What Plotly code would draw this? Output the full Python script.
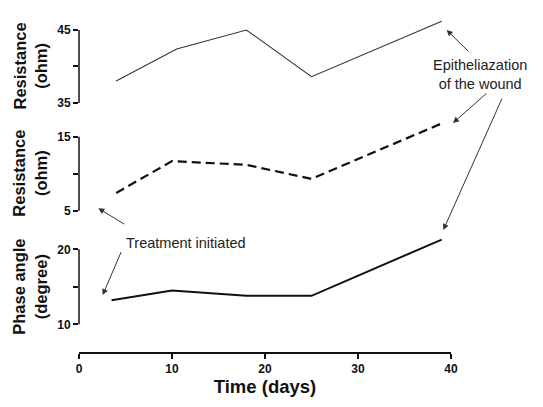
import plotly.graph_objects as go

# ---- data ----
days_top = [4, 10.5, 18, 25, 39]
res_top = [38.0, 42.4, 45.0, 38.6, 46.2]

days_mid = [4, 10, 18, 25, 39]
res_mid = [7.4, 11.7, 11.2, 9.3, 16.8]

days_bot = [3.5, 10, 18, 25, 39]
phase_bot = [13.2, 14.5, 13.8, 13.8, 21.3]

x_ticks = [0, 10, 20, 30, 40]
top_ticks = [35, 40, 45]
top_ticktext = ["35", "", "45"]
mid_ticks = [5, 10, 15]
mid_ticktext = ["5", "", "15"]
bot_ticks = [10, 15, 20]
bot_ticktext = ["10", "", "20"]

FONT = "Liberation Sans, Arial, sans-serif"
OFF = 8  # page body margin
W, H = 543 - OFF, 407 - OFF
ML, MT = 79 - OFF, 10 - OFF
PW = 372
PH = 343
MR = W - ML - PW
MB = H - MT - PH


def px(x):
    return (x - OFF - ML) / PW


def py(y):
    return 1 - (y - OFF - MT) / PH


fig = go.Figure()
fig.add_trace(go.Scatter(x=days_top, y=res_top, mode="lines", xaxis="x", yaxis="y",
                         line=dict(color="#333333", width=1.1), showlegend=False))
fig.add_trace(go.Scatter(x=days_mid, y=res_mid, mode="lines", xaxis="x", yaxis="y2",
                         line=dict(color="#111111", width=2.2, dash="9px,5px"), showlegend=False))
fig.add_trace(go.Scatter(x=days_bot, y=phase_bot, mode="lines", xaxis="x", yaxis="y3",
                         line=dict(color="#111111", width=2.0), showlegend=False))

yax_common = dict(showgrid=False, zeroline=False, showline=False, ticks="outside",
                  ticklen=5, tickwidth=1.5, tickcolor="#111111", anchor="x",
                  tickfont=dict(family=FONT, size=12, color="#111111", weight="bold"))

fig.update_layout(
    width=W, height=H,
    margin=dict(l=ML, r=MR, t=MT, b=MB),
    paper_bgcolor="white", plot_bgcolor="white",
    xaxis=dict(range=[0, 40], domain=[0, 1], anchor="free", position=0,
               showgrid=False, zeroline=False, showline=True, linecolor="#111111",
               linewidth=1.5, ticks="outside", ticklen=5, tickwidth=1.5,
               tickcolor="#111111", tickvals=x_ticks,
               tickfont=dict(family=FONT, size=12, color="#111111", weight="bold"),
               title=dict(text="Time (days)", standoff=4,
                          font=dict(family=FONT, size=18.5, color="#111111", weight="bold"))),
    yaxis=dict(range=[33.5, 47], domain=[0.6969, 0.9843], tickvals=top_ticks,
               ticktext=top_ticktext, **yax_common),
    yaxis2=dict(range=[4, 17.5], domain=[0.3933, 0.6845], tickvals=mid_ticks,
                ticktext=mid_ticktext, **yax_common),
    yaxis3=dict(range=[9, 22.5], domain=[0.0618, 0.357], tickvals=bot_ticks,
                ticktext=bot_ticktext, **yax_common),
)

# axis spines spanning only the labelled range
for yref, ticks in (("y", top_ticks), ("y2", mid_ticks), ("y3", bot_ticks)):
    fig.add_shape(type="line", xref="paper", yref=yref, x0=0, x1=0,
                  y0=ticks[0], y1=ticks[-1], line=dict(color="#111111", width=1.5))

# y-axis titles
for yref, ymid, txt in (("y", 40, "Resistance<br>(ohm)"),
                        ("y2", 10, "Resistance<br>(ohm)"),
                        ("y3", 15, "Phase angle<br>(degree)")):
    fig.add_annotation(xref="paper", yref=yref, x=px(30), y=ymid, text=txt,
                       textangle=-90, showarrow=False, xanchor="center", yanchor="middle",
                       font=dict(family=FONT, size=16.5, color="#111111", weight="bold"))

# text labels
fig.add_annotation(xref="paper", yref="paper", x=px(480), y=py(74),
                   text="Epitheliazation<br>of the wound", showarrow=False,
                   xanchor="center", yanchor="middle",
                   font=dict(family=FONT, size=14.5, color="#222222"))
fig.add_annotation(xref="paper", yref="paper", x=px(185.5), y=py(243),
                   text="Treatment initiated", showarrow=False,
                   xanchor="center", yanchor="middle",
                   font=dict(family=FONT, size=14.5, color="#222222"))

# arrows: (head_x, head_y, tail_x, tail_y) in reference pixels
arrows = [
    (446.7, 30, 470, 53),
    (453, 123, 488, 92),
    (443.3, 230, 502.7, 97),
    (98.3, 208.3, 125.7, 225),
    (102.7, 295, 121.7, 250.7),
]
for hx, hy, tx, ty in arrows:
    fig.add_annotation(xref="paper", yref="paper", x=px(hx), y=py(hy),
                       ax=tx - hx, ay=ty - hy, axref="pixel", ayref="pixel",
                       text="", showarrow=True, arrowhead=2, arrowsize=1.2,
                       arrowwidth=1, arrowcolor="#333333")

fig.write_html("out.html")
